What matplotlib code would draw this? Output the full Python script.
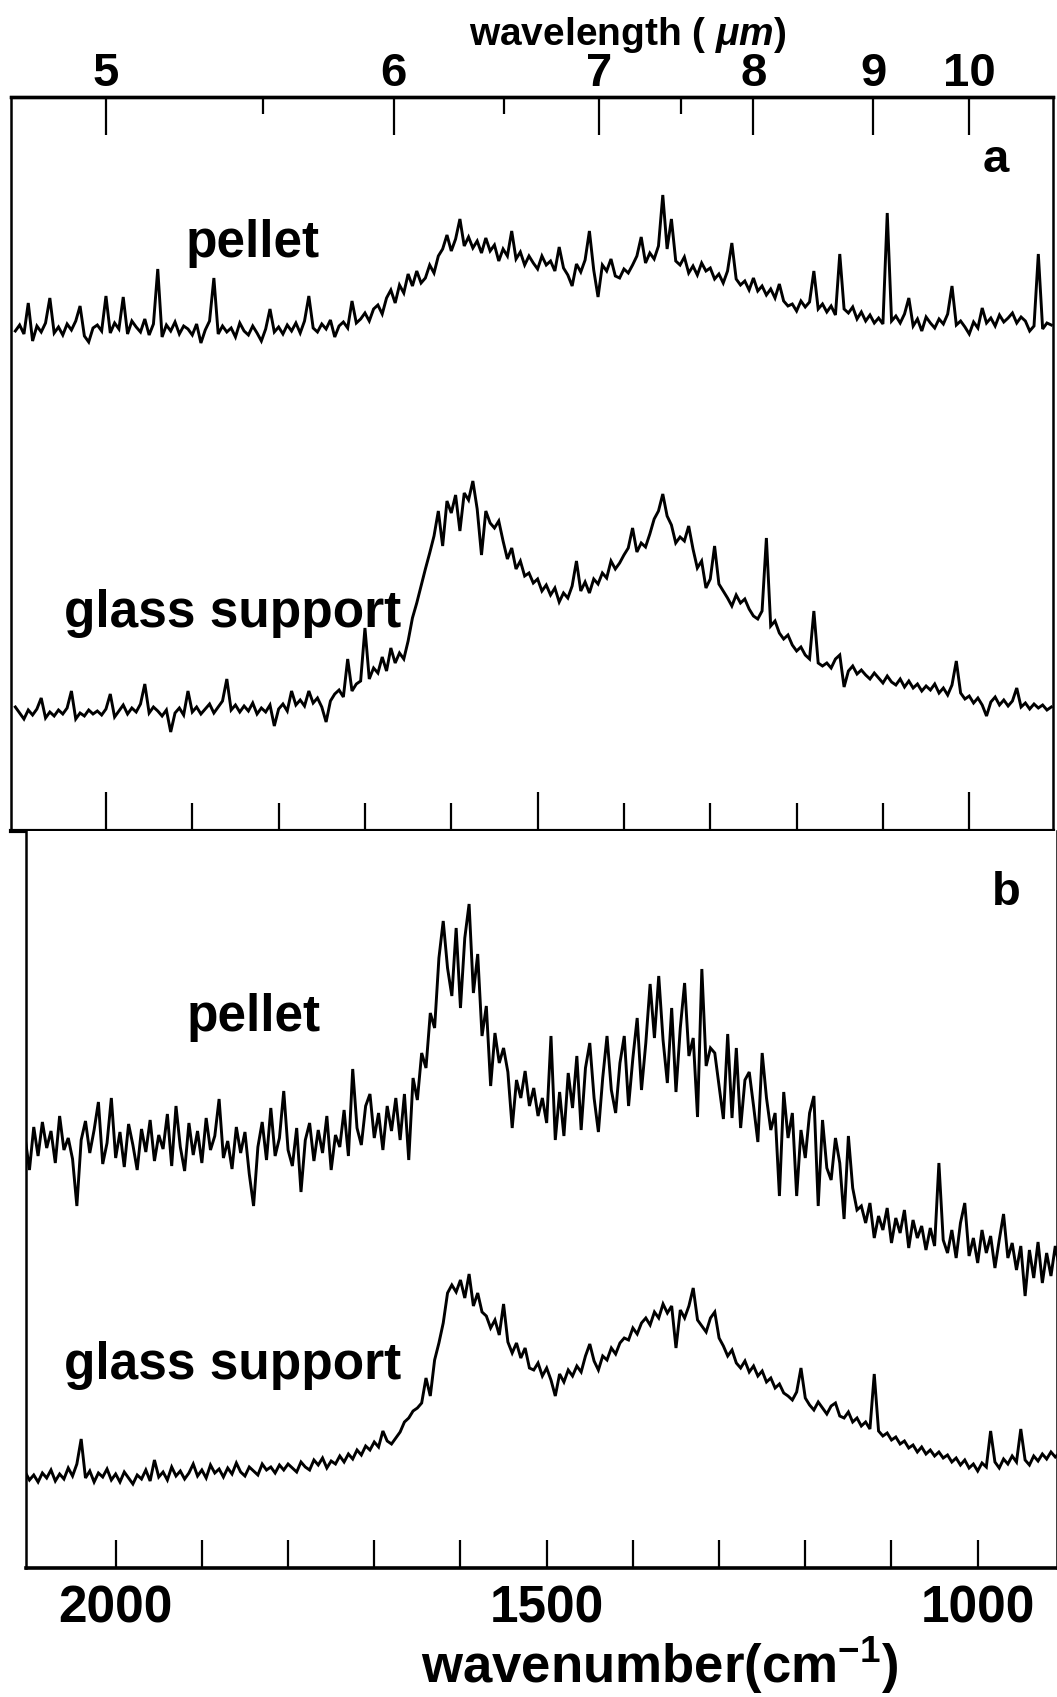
import numpy as np
import matplotlib
matplotlib.use("Agg")
import matplotlib.pyplot as plt

plt.rcParams['font.family'] = ['Liberation Sans', 'DejaVu Sans']
plt.rcParams['font.weight'] = 'bold'
plt.rcParams['mathtext.fontset'] = 'custom'
plt.rcParams['mathtext.rm'] = 'Liberation Sans:bold'
plt.rcParams['mathtext.it'] = 'Liberation Sans:italic'
plt.rcParams['mathtext.bf'] = 'Liberation Sans:bold'

# wavenumber grid (cm-1), 5 cm-1 steps from 2105 down to 905
wavenumber = np.arange(2105, 900, -5)

# intensities, arbitrary units (height above the panel floor)
a_pellet = [
    500, 506, 497, 528, 490, 505, 499, 508, 533, 498, 504, 496, 507, 501, 510, 525, 495, 489, 503, 506,
    500, 535, 498, 508, 502, 534, 497, 510, 504, 499, 512, 496, 507, 562, 494, 506, 500, 509, 497, 505,
    502, 496, 507, 488, 501, 510, 553, 497, 505, 499, 503, 494, 508, 500, 496, 505, 498, 490, 502, 522,
    499, 504, 497, 506, 500, 508, 498, 510, 535, 503, 499, 507, 502, 511, 494, 505, 509, 503, 530, 508,
    512, 518, 510, 522, 526, 517, 533, 541, 528, 546, 538, 557, 545, 560, 548, 553, 566, 558, 575, 582,
    596, 580, 592, 612, 585, 594, 583, 590, 578, 593, 580, 586, 570, 582, 575, 600, 572, 579, 566, 575,
    568, 562, 575, 566, 570, 560, 584, 563, 556, 545, 567, 559, 571, 600, 561, 534, 566, 560, 572, 555,
    553, 562, 558, 566, 575, 594, 568, 578, 572, 585, 636, 582, 612, 570, 566, 574, 558, 565, 556, 568,
    560, 563, 552, 557, 548, 560, 588, 552, 546, 550, 541, 553, 540, 545, 536, 542, 533, 547, 530, 525,
    527, 520, 530, 524, 529, 560, 522, 527, 519, 525, 516, 577, 522, 518, 524, 512, 519, 510, 516, 508,
    513, 507, 618, 510, 515, 508, 517, 533, 505, 512, 500, 514, 508, 503, 512, 507, 517, 545, 506, 510,
    504, 497, 509, 503, 523, 508, 513, 505, 516, 509, 513, 518, 508, 514, 510, 500, 505, 577, 502, 508, 506,
]

a_glass = [
    124, 118, 112, 121, 116, 122, 133, 113, 119, 115, 121, 117, 123, 140, 112, 118, 115, 121, 117, 120,
    116, 122, 137, 114, 120, 126, 117, 123, 119, 127, 147, 118, 124, 120, 115, 121, 99, 118, 123, 116,
    140, 119, 124, 117, 122, 127, 118, 124, 130, 152, 121, 126, 119, 125, 120, 128, 117, 123, 119, 126,
    105, 122, 127, 120, 140, 126, 131, 125, 140, 128, 133, 124, 109, 130, 137, 141, 134, 172, 140, 147,
    150, 203, 152, 163, 158, 174, 160, 183, 168, 178, 172, 190, 213, 228, 245, 262, 278, 295, 320, 285,
    330, 318, 336, 300, 338, 331, 350, 322, 276, 320, 308, 303, 310, 290, 272, 283, 262, 270, 255, 258,
    248, 252, 240, 246, 236, 243, 229, 238, 233, 245, 270, 240, 249, 238, 252, 247, 258, 253, 270, 262,
    268, 276, 283, 303, 279, 288, 284, 297, 312, 320, 337, 315, 306, 288, 294, 290, 305, 282, 263, 270,
    243, 252, 285, 247, 240, 233, 225, 236, 228, 232, 222, 215, 212, 220, 293, 205, 210, 198, 192, 196,
    186, 180, 184, 176, 172, 220, 168, 165, 168, 163, 172, 176, 144, 160, 165, 157, 161, 156, 152, 158,
    153, 148, 155, 149, 146, 152, 144, 150, 143, 147, 140, 145, 141, 147, 138, 143, 136, 146, 170, 138,
    132, 135, 128, 133, 126, 115, 129, 134, 126, 131, 125, 130, 143, 124, 128, 122, 127, 123, 126, 121, 124,
]

b_pellet = [
    430, 398, 441, 412, 446, 420, 437, 405, 452, 418, 430, 409, 362, 428, 447, 415, 438, 466, 404, 425,
    470, 410, 436, 401, 444, 423, 398, 439, 416, 448, 407, 433, 419, 454, 402, 462, 421, 397, 445, 413,
    437, 405, 450, 418, 432, 469, 410, 427, 399, 441, 415, 436, 394, 362, 421, 446, 408, 460, 412, 430,
    477, 418, 402, 440, 376, 428, 445, 407, 438, 415, 452, 398, 433, 421, 458, 412, 499, 440, 423, 462,
    474, 430, 455, 418, 462, 437, 470, 428, 474, 408, 490, 468, 515, 500, 555, 540, 610, 647, 600, 572,
    640, 560, 630, 664, 575, 614, 532, 562, 482, 535, 505, 520, 496, 440, 488, 470, 497, 462, 480, 452,
    470, 445, 532, 428, 476, 432, 495, 460, 512, 438, 500, 525, 470, 436, 490, 532, 478, 455, 505, 532,
    462, 510, 550, 478, 525, 584, 530, 592, 528, 485, 560, 476, 540, 585, 512, 530, 451, 599, 502, 520,
    515, 482, 449, 534, 450, 520, 440, 488, 496, 462, 426, 515, 470, 438, 455, 372, 476, 430, 455, 372,
    438, 410, 455, 472, 362, 448, 400, 388, 430, 405, 349, 432, 380, 358, 362, 345, 365, 330, 352, 338,
    360, 325, 350, 335, 358, 320, 348, 330, 342, 318, 340, 322, 405, 328, 315, 338, 310, 345, 365, 312,
    330, 305, 338, 315, 332, 300, 328, 354, 310, 325, 298, 322, 272, 318, 290, 326, 285, 315, 292, 322, 300,
]

b_glass = [
    96, 88, 93, 86, 95, 90, 98, 87, 94, 89, 100, 92, 104, 129, 90, 97, 86, 95, 91, 99,
    88, 94, 86, 96, 90, 84, 93, 89, 98, 87, 108, 91, 96, 88, 101, 92, 97, 89, 95, 104,
    92, 98, 90, 103, 95, 99, 91, 100, 94, 105, 96, 92, 101, 97, 93, 104, 98, 101, 95, 103,
    98, 104, 100, 96, 106, 101, 98, 108, 103, 110, 100, 107, 104, 112, 106, 114, 109, 118, 113, 122,
    118, 126, 121, 137, 127, 124, 130, 136, 146, 150, 157, 160, 165, 190, 172, 208, 225, 245, 275, 283,
    276, 288, 270, 294, 262, 275, 256, 252, 240, 248, 233, 264, 226, 215, 225, 210, 220, 200, 198, 205,
    192, 200, 188, 172, 194, 186, 198, 192, 202, 196, 212, 224, 207, 198, 212, 208, 220, 214, 225, 230,
    228, 240, 234, 245, 250, 243, 256, 250, 264, 255, 262, 220, 258, 250, 262, 280, 248, 242, 236, 250,
    256, 230, 222, 212, 218, 205, 200, 207, 196, 202, 192, 197, 186, 190, 180, 184, 175, 172, 168, 176,
    200, 170, 163, 158, 166, 160, 154, 162, 165, 152, 150, 156, 146, 150, 142, 146, 139, 194, 137, 132,
    135, 128, 131, 124, 127, 120, 123, 116, 121, 114, 118, 112, 116, 110, 113, 106, 110, 103, 108, 100,
    104, 97, 105, 101, 137, 106, 100, 109, 104, 112, 106, 139, 108, 103, 112, 107, 114, 109, 116, 111, 115,
]

wn_ticks = [2000, 1900, 1800, 1700, 1600, 1500, 1400, 1300, 1200, 1100, 1000]
wn_labels = ['2000', '', '', '', '', '1500', '', '', '', '', '1000']
wl_ticks = [5, 6, 7, 8, 9, 10]
wl_minor = [5.5, 6.5, 7.5]

W, H = 1057, 1697
fig = plt.figure(figsize=(W / 100, H / 100), dpi=100)


def box(x0, y0, x1, y1):
    # pixel box (top-left origin) -> figure fraction rect
    return [x0 / W, 1 - y1 / H, (x1 - x0) / W, (y1 - y0) / H]


ax_a = fig.add_axes(box(11, 97, 1053, 831))
ax_b = fig.add_axes(box(26, 831, 1057, 1568))

for ax, ys in ((ax_a, a_pellet), (ax_a, a_glass), (ax_b, b_pellet), (ax_b, b_glass)):
    ax.plot(wavenumber, ys, color='black', lw=2.1, solid_joinstyle='miter')

ax_a.set_xlim(2110, 903)
ax_b.set_xlim(2104, 908)
ax_a.set_ylim(0, 734)
ax_b.set_ylim(0, 737)

for ax in (ax_a, ax_b):
    ax.set_yticks([])
    ax.set_xticks(wn_ticks)
    ax.tick_params(axis='x', direction='in', width=1.6, length=20, top=False)
    for sp in ax.spines.values():
        sp.set_linewidth(1.8)
    # longer ticks at 2000, 1500, 1000
    for t, lab in zip(ax.xaxis.get_major_ticks(), wn_labels):
        if lab:
            t.tick1line.set_markersize(28)

ax_a.set_xticklabels([''] * len(wn_ticks))
ax_a.spines['top'].set_linewidth(2.4)
ax_a.spines['bottom'].set_linewidth(3.0)
ax_b.spines['top'].set_visible(False)
ax_b.spines['bottom'].set_linewidth(2.6)
ax_b.set_xticklabels(wn_labels, fontsize=37, fontweight='bold')
ax_b.tick_params(axis='x', pad=12)

# wavelength axis on top
top = ax_a.secondary_xaxis('top', functions=(lambda x: 1e4 / np.asarray(x, float),
                                             lambda x: 1e4 / np.asarray(x, float)))
top.set_xticks(wl_ticks)
top.set_xticks(wl_minor, minor=True)
top.set_xticklabels([str(v) for v in wl_ticks], fontsize=34, fontweight='bold')
top.tick_params(which='major', direction='in', length=27, width=1.6, pad=1)
top.tick_params(which='minor', direction='in', length=12, width=1.6)
top.spines['top'].set_linewidth(2.4)

txt = dict(fontsize=37, fontweight='bold', ha='center', va='center')
fig.text(253 / W, 1 - 243 / H, 'pellet', **txt)
fig.text(233 / W, 1 - 613 / H, 'glass support', **txt)
fig.text(254 / W, 1 - 1017 / H, 'pellet', **txt)
fig.text(233 / W, 1 - 1365 / H, 'glass support', **txt)
fig.text(996 / W, 1 - 160 / H, 'a', fontsize=34, fontweight='bold', ha='center', va='center')
fig.text(1006 / W, 1 - 893 / H, 'b', fontsize=34, fontweight='bold', ha='center', va='center')

fig.text(628 / W, 1 - 45 / H, r'wavelength ( $\mu m$)', fontsize=28, fontweight='bold',
         ha='center', va='baseline')
fig.text(660 / W, 1 - 1666 / H, r'wavenumber(cm$^{-1}$)', fontsize=38, fontweight='bold',
         ha='center', va='center')

fig.savefig('out.png', dpi=100)
